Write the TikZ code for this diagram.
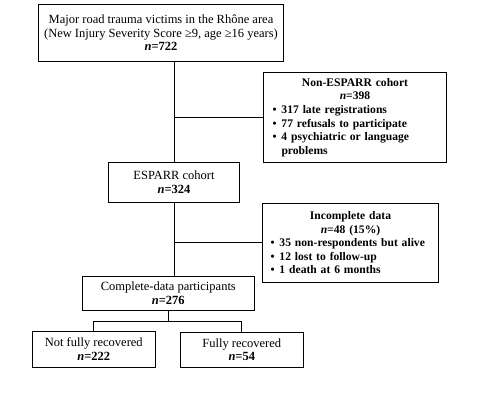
\documentclass[tikz,border=0pt]{standalone}
\usepackage{fontspec}
\setmainfont{Liberation Serif}
\begin{document}
\begin{tikzpicture}[x=1pt,y=-1pt,
  box/.style={draw,line width=1pt,inner sep=0pt,align=center,
    font=\fontsize{12.5}{13.6}\selectfont},
  listbox/.style={box,align=left,font=\fontsize{11.6}{13.6}\selectfont\bfseries},
  conn/.style={line width=1pt}]
\useasboundingbox (0,0) rectangle (498,417);
\newcommand{\itm}[1]{\hangindent=9pt\hangafter=1\noindent\makebox[9pt][l]{•}#1\par}
\node[box,minimum width=245pt,minimum height=57pt] (top) at (161,33)
  {Major road trauma victims in the Rhône area\\(New Injury Severity Score ≥9, age ≥16 years)\\\textbf{\textit{n}=722}};
\node[listbox,minimum width=183pt,minimum height=90pt,text width=165pt] (nonesp) at (355,117.5)
  {{\centering Non-ESPARR cohort\\\textit{n}=398\par}
   \itm{317 late registrations}
   \itm{77 refusals to participate}
   \itm{4 psychiatric or language problems}};
\node[box,minimum width=131pt,minimum height=40pt] (esp) at (174,182.5)
  {ESPARR cohort\\\textbf{\textit{n}=324}};
\node[listbox,minimum width=176pt,minimum height=79pt,text width=160pt] (inc) at (350.5,242.8)
  {{\centering Incomplete data\\\textit{n}=48 (15\%)\par}
   \itm{35 non-respondents but alive}
   \itm{12 lost to follow-up}
   \itm{1 death at 6 months}};
\node[box,minimum width=172pt,minimum height=34pt] (comp) at (168.3,293.5)
  {Complete-data participants\\\textbf{\textit{n}=276}};
\node[box,minimum width=123pt,minimum height=36pt] (notrec) at (93.8,349.3)
  {Not fully recovered\\\textbf{\textit{n}=222}};
\node[box,minimum width=123pt,minimum height=35pt] (rec) at (241.8,349.8)
  {Fully recovered\\\textbf{\textit{n}=54}};
\coordinate (split) at (168.3,321.3);
\draw[conn] (esp.north |- top.south) -- (esp.north);
\draw[conn] (esp.north |- nonesp.west) -- (nonesp.west);
\draw[conn] (esp.south) -- (esp.south |- comp.north);
\draw[conn] (esp.south |- inc.west) -- (inc.west);
\draw[conn] (comp.south) -- (split);
\draw[conn] (notrec.north |- split) -- (rec.north |- split);
\draw[conn] (notrec.north |- split) -- (notrec.north);
\draw[conn] (rec.north |- split) -- (rec.north);
\end{tikzpicture}
\end{document}
